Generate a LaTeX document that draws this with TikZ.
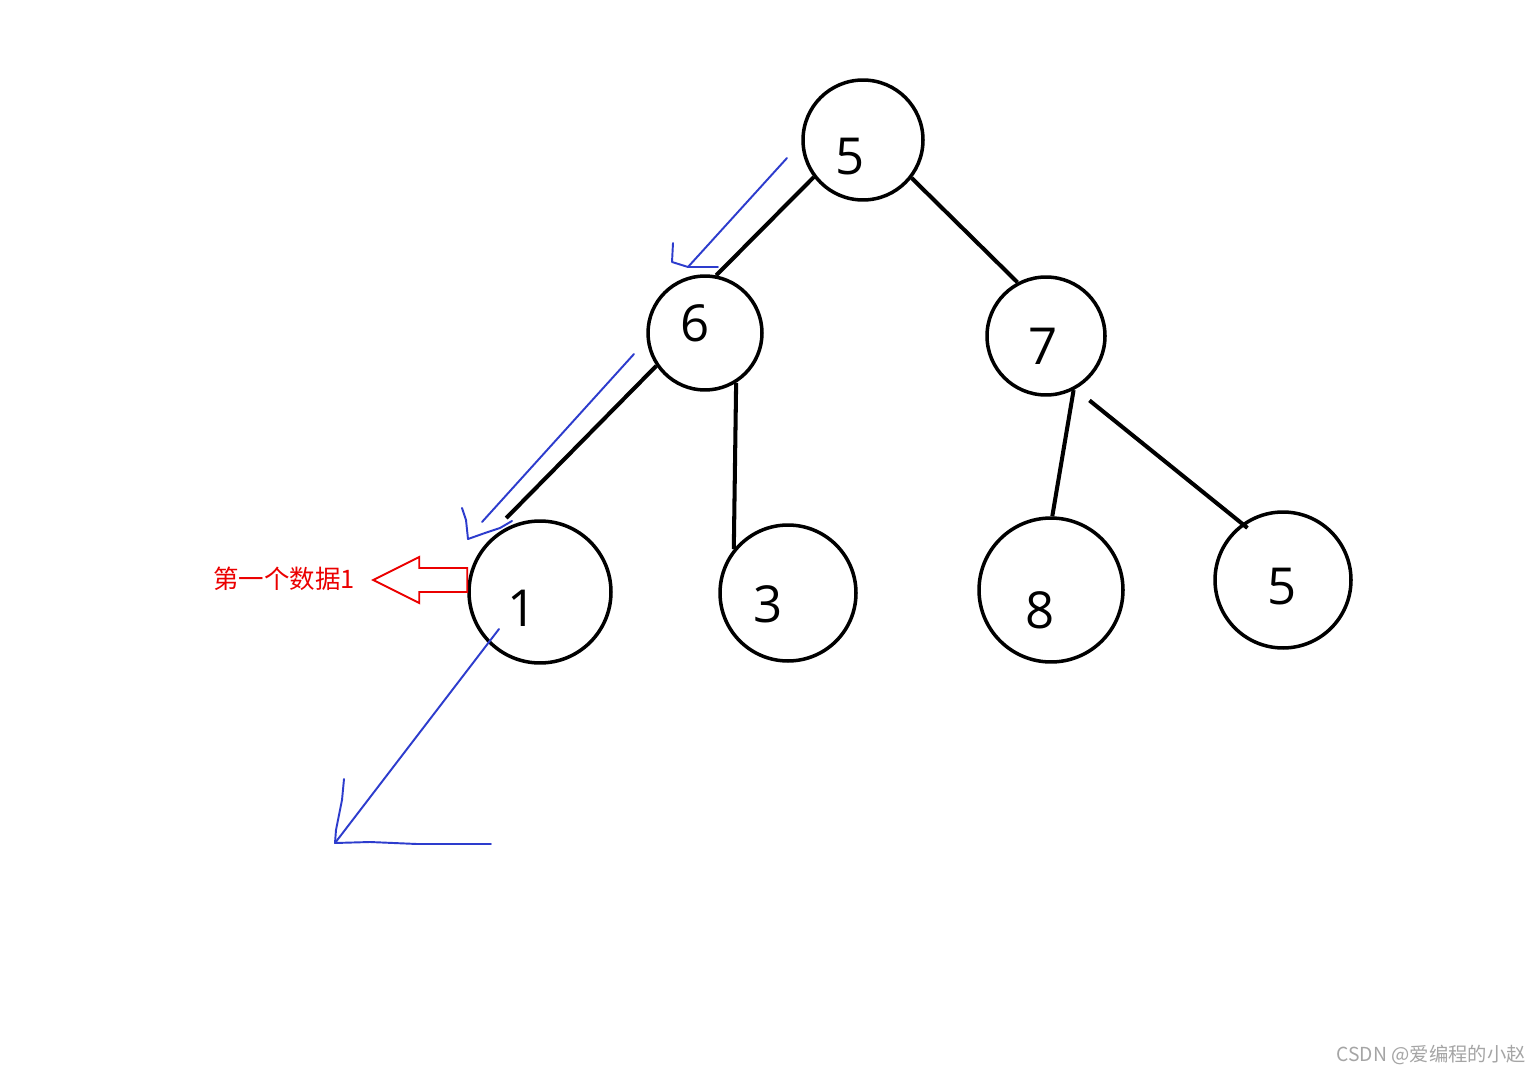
\documentclass[tikz,border=0pt]{standalone}
\usepackage{fontspec}
\setmainfont{Open Sans}
\newfontfamily\cjk{Noto Sans CJK SC}
\definecolor{penblue}{RGB}{45,60,205}
\definecolor{notered}{RGB}{235,0,0}
\definecolor{wmgray}{RGB}{165,165,165}
\begin{document}
\begin{tikzpicture}[x=0.02cm,y=-0.02cm,
  ball/.style={draw,circle,line width=2pt,minimum size=#1,inner sep=0pt},
  digit/.style={font=\fontsize{29}{29}\selectfont,inner sep=0pt},
  edge/.style={line width=2.3pt},
  hint/.style={draw=penblue,line width=1.1pt,line cap=round,line join=round}]
  \useasboundingbox[fill=white] (0,0) rectangle (1540,1074);
  \node[ball=2.4cm] (root) at (863,140) {};
  \node[ball=2.28cm] (n6) at (705,333) {};
  \node[ball=2.36cm] (n7) at (1046,336) {};
  \node[ball=2.84cm] (n1) at (540,592) {};
  \node[ball=2.72cm] (n3) at (788,593) {};
  \node[ball=2.88cm] (n8) at (1051,590) {};
  \node[ball=2.72cm] (n5) at (1283,580) {};
  \node[digit] (root-t) at (850,157) {5};
  \node[digit] (n6-t) at (695,323) {6};
  \node[digit] (n7-t) at (1043,346) {7};
  \node[digit] (n1-t) at (522,608) {1};
  \node[digit] (n3-t) at (768,604) {3};
  \node[digit] (n8-t) at (1040,610) {8};
  \node[digit] (n5-t) at (1282,587) {5};
  \draw[edge] (root.217) -- (n6.79);
  \draw[edge] (root.-38) -- (n7.118);
  \draw[edge] (n6.214) -- ([shift={(-3,-8)}]n1.115);
  \draw[edge] (n6.-58) -- (n3.141);
  \draw[edge] (n7.-63) -- (n8.89);
  \draw[edge,shorten <=0.36cm,shorten >=-0.14cm] (n7.-61) -- (n5.126);
  \coordinate (tipA) at (688,267);
  \coordinate (tipB) at (468,539);
  \coordinate (tipC) at (335,843);
  \draw[hint] (787,158) -- (tipA);
  \draw[hint] (tipA) -- ++(30,0) (tipA) -- ++(-16,-5) -- ++(1,-19);
  \draw[hint] (634,354) -- (482,522);
  \draw[hint] (tipB) -- (466,520) -- (462,508);
  \draw[hint] (tipB) -- (485,533) -- (500,528) -- (512,521);
  \draw[hint] (499,629) -- (tipC);
  \draw[hint] (tipC) -- (336,830) -- (342,800) -- (344,779);
  \draw[hint] (tipC) -- (370,842) -- (417,844) -- (491,844);
  \draw[notered,line width=1.1pt] (n1.west) ++(0,-24) -- ++(-48,0) -- ++(0,-11)
    -- ++(-46,23) -- ++(46,23) -- ++(0,-11) -- ++(48,0) -- cycle;
  \node[anchor=west,inner sep=0pt,text=notered,font=\cjk\fontsize{14.5}{14.5}\selectfont] (note) at (213,579) {第一个数据1};
  \node[anchor=east,inner sep=0pt,text=wmgray,font=\cjk\fontsize{11}{11}\selectfont] (credit) at (1526,1055) {CSDN @爱编程的小赵};
\end{tikzpicture}
\end{document}
